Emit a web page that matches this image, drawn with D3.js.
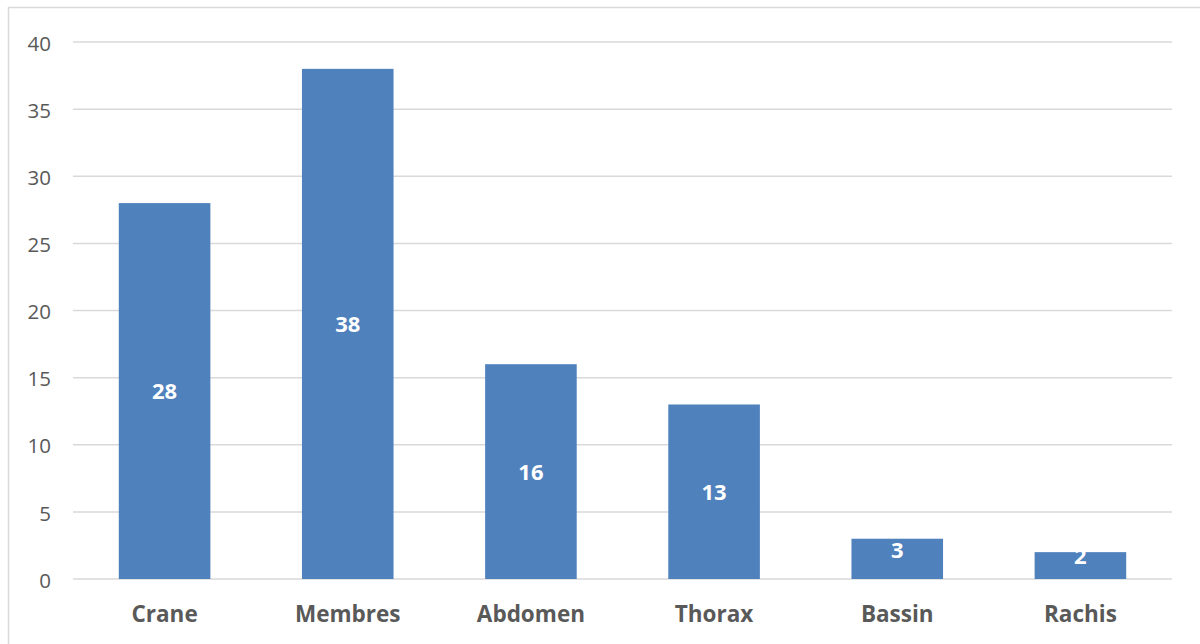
<!DOCTYPE html>
<html><head><meta charset="utf-8">
<script src="https://cdn.jsdelivr.net/npm/d3@7"></script>
<style>body{margin:0;background:#fff;overflow:hidden}svg{display:block}</style>
</head><body>
<script>
const categories = ["Crane","Membres","Abdomen","Thorax","Bassin","Rachis"];
const values = [28,38,16,13,3,2];
const yTicks = [0,5,10,15,20,25,30,35,40];

(function(){
const W=1200,H=644;
const svg=d3.select("body").append("svg").attr("width",W).attr("height",H);
svg.append("rect").attr("x",8.5).attr("y",7.5).attr("width",1220).attr("height",680)
  .attr("fill","#fff").attr("stroke","#d9d9d9").attr("stroke-width",1.5);

const mLeft=73,mRight=1172,mTop=42,mBottom=579;
const x=d3.scaleBand().domain(categories).range([mLeft,mRight]).paddingInner(0.5).paddingOuter(0.25);
const y=d3.scaleLinear().domain([0,40]).range([mBottom,mTop]);

const grid=svg.append("g");
grid.selectAll("line").data(yTicks).join("line")
  .attr("x1",mLeft).attr("x2",mRight).attr("y1",d=>y(d)).attr("y2",d=>y(d))
  .attr("stroke","#d9d9d9").attr("stroke-width",1.5);

const yAxis=svg.append("g").attr("transform",`translate(${mLeft},0)`)
  .call(d3.axisLeft(y).tickValues(yTicks).tickSize(0).tickPadding(22));
yAxis.select(".domain").remove();
yAxis.selectAll("text").attr("font-family","'Open Sans',sans-serif").attr("font-size",20.5)
  .attr("fill","#595959").attr("dy","0.4em");

svg.append("g").selectAll("rect").data(values).join("rect")
  .attr("x",(d,i)=>x(categories[i])).attr("width",x.bandwidth())
  .attr("y",d=>y(d)).attr("height",d=>y(0)-y(d)).attr("fill","#4f81bd");

svg.append("g").selectAll("text").data(values).join("text")
  .attr("x",(d,i)=>x(categories[i])+x.bandwidth()/2)
  .attr("y",d=>{const c=(y(d)+y(0))/2; return (y(0)-y(d))<45 ? c-9 : c;})
  .attr("dy","0.36em")
  .attr("text-anchor","middle")
  .attr("font-family","'Open Sans',sans-serif").attr("font-weight","bold").attr("font-size",22)
  .attr("fill","#fff").text(d=>d);

const xAxis=svg.append("g").attr("transform",`translate(0,${mBottom})`)
  .call(d3.axisBottom(x).tickSize(0).tickPadding(0));
xAxis.select(".domain").remove();
xAxis.selectAll("text").attr("font-family","'Open Sans',sans-serif").attr("font-weight","bold")
  .attr("font-size",22.5).attr("fill","#595959").attr("dy",null).attr("y",43);
})();
</script>
</body></html>
